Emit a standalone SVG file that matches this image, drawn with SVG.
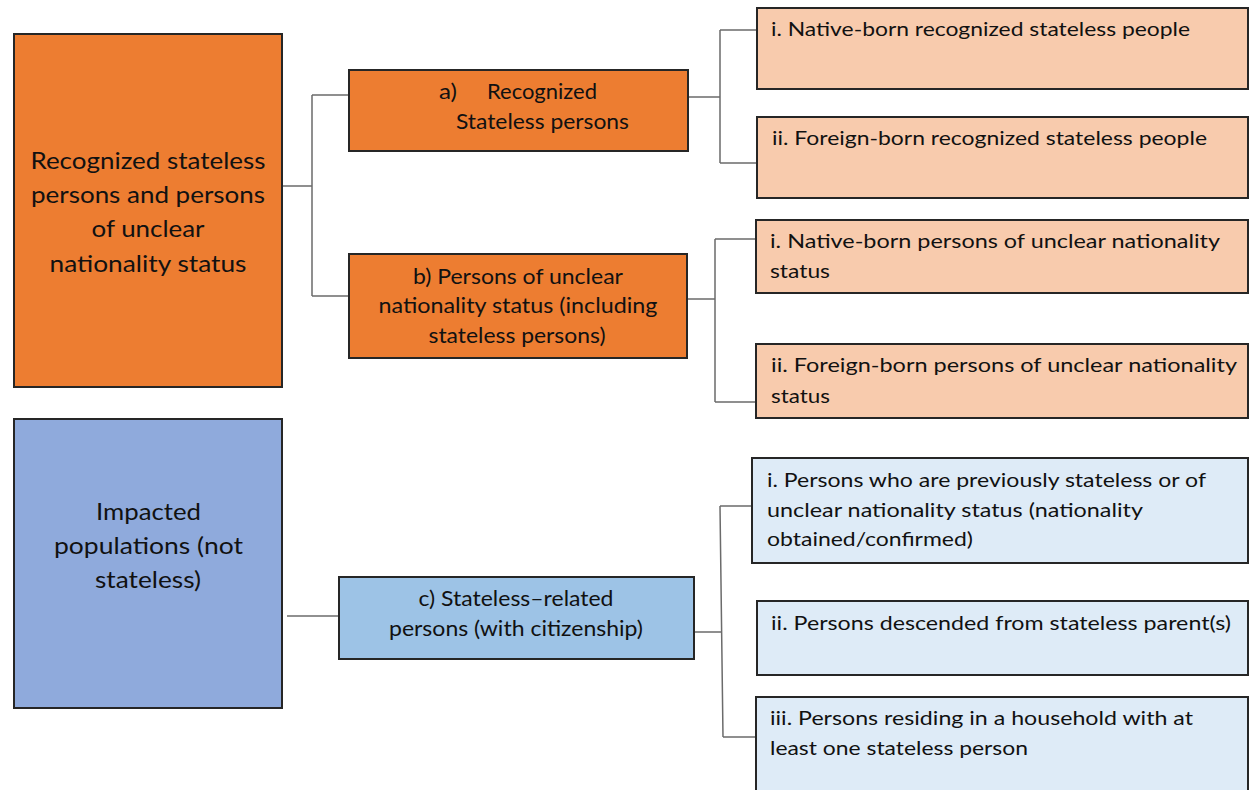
<svg xmlns="http://www.w3.org/2000/svg" width="1249" height="790" viewBox="0 0 1249 790">
<style>
.box{stroke:#262626;stroke-width:2}
.o{fill:#ED7D31}
.lo{fill:#F8CBAD}
.b{fill:#8FAADC}
.mb{fill:#9DC3E6}
.lb{fill:#DEEBF7}
text{font-family:Lato,"Open Sans","Liberation Sans",sans-serif;fill:#111}
.big{font-size:23px}
.mid{font-size:20.5px}
.sm{font-size:19px}
.c{text-anchor:middle}
.conn{fill:none;stroke:#6b6b6b;stroke-width:1.5}
</style>
<rect width="1249" height="790" fill="#fff"/>
<g id="connectors">
<path class="conn" d="M282 186H312M312 95V296M312 95H349M312 296H349"/>
<path class="conn" d="M688 97H720M720 30V163M720 30H757M720 163H757"/>
<path class="conn" d="M687 299H715M715 239V402M715 239H756M715 402H756"/>
<path class="conn" d="M287 616H339"/>
<path class="conn" d="M694 632H722M720 506L723 737M720 506H752M723 737H756"/>
</g>
<g id="node-recognized-unclear">
<rect class="box o" x="14" y="34" width="268" height="353"/>
<text class="big c" x="148" y="169" textLength="235" lengthAdjust="spacingAndGlyphs">Recognized stateless</text>
<text class="big c" x="148" y="203" textLength="234" lengthAdjust="spacingAndGlyphs">persons and persons</text>
<text class="big c" x="148" y="237" textLength="113" lengthAdjust="spacingAndGlyphs">of unclear</text>
<text class="big c" x="148" y="272" textLength="197" lengthAdjust="spacingAndGlyphs">nationality status</text>
</g>
<g id="node-impacted">
<rect class="box b" x="14" y="419" width="268" height="289"/>
<text class="big c" x="148.5" y="520" textLength="105" lengthAdjust="spacingAndGlyphs">Impacted</text>
<text class="big c" x="148.5" y="554" textLength="189" lengthAdjust="spacingAndGlyphs">populations (not</text>
<text class="big c" x="148" y="588" textLength="106" lengthAdjust="spacingAndGlyphs">stateless)</text>
</g>
<g id="node-a">
<rect class="box o" x="349" y="70" width="339" height="81"/>
<text class="mid" x="439" y="99" textLength="18" lengthAdjust="spacingAndGlyphs">a)</text>
<text class="mid" x="487" y="99" textLength="110" lengthAdjust="spacingAndGlyphs">Recognized</text>
<text class="mid" x="456" y="129" textLength="173" lengthAdjust="spacingAndGlyphs">Stateless persons</text>
</g>
<g id="node-b">
<rect class="box o" x="349" y="254" width="338" height="104"/>
<text class="mid c" x="518" y="284" textLength="210" lengthAdjust="spacingAndGlyphs">b) Persons of unclear</text>
<text class="mid c" x="518" y="313" textLength="279" lengthAdjust="spacingAndGlyphs">nationality status (including</text>
<text class="mid c" x="517" y="343" textLength="177" lengthAdjust="spacingAndGlyphs">stateless persons)</text>
</g>
<g id="node-c">
<rect class="box mb" x="339" y="577" width="355" height="82"/>
<text class="mid c" x="516" y="606" textLength="195" lengthAdjust="spacingAndGlyphs">c) Stateless–related</text>
<text class="mid c" x="516" y="636" textLength="254" lengthAdjust="spacingAndGlyphs">persons (with citizenship)</text>
</g>
<g id="node-a-i">
<rect class="box lo" x="757" y="8" width="491" height="81"/>
<text class="sm" x="771" y="36" textLength="419" lengthAdjust="spacingAndGlyphs">i. Native-born recognized stateless people</text>
</g>
<g id="node-a-ii">
<rect class="box lo" x="757" y="117" width="491" height="81"/>
<text class="sm" x="772" y="145" textLength="435" lengthAdjust="spacingAndGlyphs">ii. Foreign-born recognized stateless people</text>
</g>
<g id="node-b-i">
<rect class="box lo" x="756" y="220" width="492" height="73"/>
<text class="sm" x="770" y="248" textLength="450" lengthAdjust="spacingAndGlyphs">i.  Native-born persons of unclear nationality</text>
<text class="sm" x="770" y="278" textLength="60" lengthAdjust="spacingAndGlyphs">status</text>
</g>
<g id="node-b-ii">
<rect class="box lo" x="756" y="344" width="492" height="74"/>
<text class="sm" x="771" y="372" textLength="466" lengthAdjust="spacingAndGlyphs">ii.  Foreign-born persons of unclear nationality</text>
<text class="sm" x="771" y="403" textLength="59" lengthAdjust="spacingAndGlyphs">status</text>
</g>
<g id="node-c-i">
<rect class="box lb" x="752" y="458" width="496" height="105"/>
<text class="sm" x="767" y="487" textLength="439" lengthAdjust="spacingAndGlyphs">i. Persons who are previously stateless or of</text>
<text class="sm" x="767" y="517" textLength="376" lengthAdjust="spacingAndGlyphs">unclear nationality status (nationality</text>
<text class="sm" x="767" y="546" textLength="206" lengthAdjust="spacingAndGlyphs">obtained/confirmed)</text>
</g>
<g id="node-c-ii">
<rect class="box lb" x="757" y="601" width="491" height="74"/>
<text class="sm" x="771" y="630" textLength="460" lengthAdjust="spacingAndGlyphs">ii. Persons descended  from stateless parent(s)</text>
</g>
<g id="node-c-iii">
<rect class="box lb" x="756" y="697" width="492" height="110"/>
<text class="sm" x="770" y="725" textLength="423" lengthAdjust="spacingAndGlyphs">iii. Persons residing in a household with at</text>
<text class="sm" x="770" y="755" textLength="258" lengthAdjust="spacingAndGlyphs">least one stateless person</text>
</g>
</svg>
